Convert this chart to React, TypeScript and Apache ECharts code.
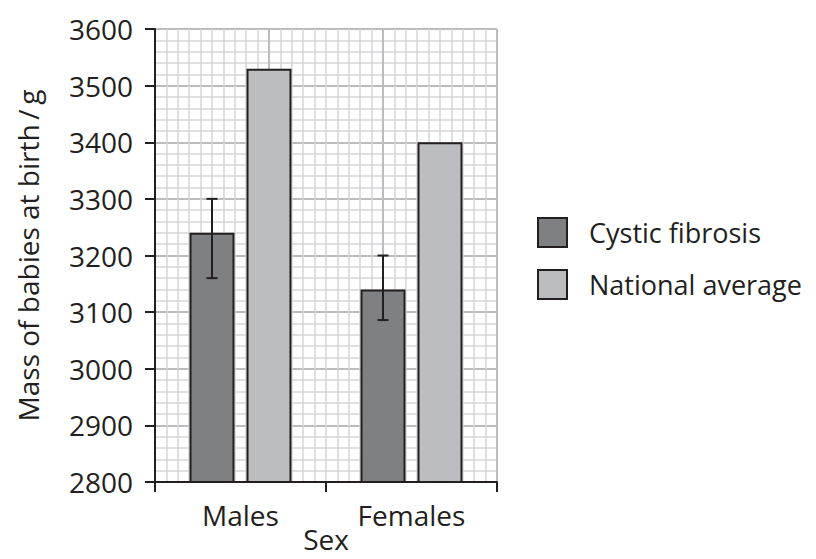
import React, { useEffect, useRef } from "react";
import * as echarts from "echarts";

const categories = ["Males", "Females"];
const cysticFibrosis = [3240, 3140];
const nationalAverage = [3530, 3400];
const errorLow = [3160, 3086];
const errorHigh = [3300, 3200];
const seriesNames = ["Cystic fibrosis", "National average"];

const INK = "#231f20";
const FONT = "'Open Sans', sans-serif";
const FS = 28;
const BAR_W = 0.263;
const BAR_GAP = 0.267;

export default function App() {
  const ref = useRef<HTMLDivElement>(null);
  useEffect(() => {
    if (!ref.current) return;
    const chart = echarts.init(ref.current, null, { renderer: "svg" });
    const option: any = {
      animation: false,
      backgroundColor: "#ffffff",
      textStyle: { fontFamily: FONT, color: INK },
      grid: {
        left: 155,
        right: 319,
        top: 29,
        bottom: 77,
        containLabel: false,
        outerBoundsMode: "none",
      },
      legend: {
        orient: "vertical",
        left: 537,
        top: 217,
        padding: 0,
        itemWidth: 29,
        itemHeight: 29,
        itemGap: 21,
        icon: "rect",
        data: seriesNames,
        textStyle: { fontFamily: FONT, fontSize: 27, color: INK, padding: [0, 0, 0, 17] },
      },
      xAxis: [
        {
          type: "category",
          data: categories,
          position: "bottom",
          axisLine: { lineStyle: { color: INK, width: 2 } },
          axisTick: { show: true, length: 10, lineStyle: { color: INK, width: 2 } },
          axisLabel: { fontFamily: FONT, fontSize: FS, color: INK, margin: 19 },
          splitLine: { show: false },
          name: "Sex",
          nameLocation: "middle",
          nameGap: 46,
          nameMoveOverlap: false,
          nameTextStyle: { fontFamily: FONT, fontSize: FS, color: INK, lineHeight: 22 },
          z: 5,
        },
        {
          type: "value",
          min: 0,
          max: 30,
          interval: 10,
          position: "top",
          axisLine: { show: false },
          axisTick: { show: false },
          axisLabel: { show: false },
          splitLine: { show: true, lineStyle: { color: "#bcbcbe", width: 2 } },
          minorTick: { show: false, splitNumber: 10 },
          minorSplitLine: { show: true, lineStyle: { color: "#d6d6d8", width: 1.5 } },
        },
      ],
      yAxis: {
        type: "value",
        min: 2800,
        max: 3600,
        interval: 100,
        axisLine: { show: true, lineStyle: { color: INK, width: 2 } },
        axisTick: { show: true, length: 10, lineStyle: { color: INK, width: 2 } },
        axisLabel: {
          fontFamily: FONT,
          fontSize: FS,
          color: INK,
          margin: 22,
          formatter: (v: number) => String(v),
        },
        splitLine: { show: true, lineStyle: { color: "#bcbcbe", width: 2 } },
        minorTick: { show: false, splitNumber: 5 },
        minorSplitLine: { show: true, lineStyle: { color: "#d6d6d8", width: 1.5 } },
        name: "Mass of babies at birth\u2009/\u2009g",
        nameLocation: "middle",
        nameGap: 113,
        nameMoveOverlap: false,
        nameTextStyle: { fontFamily: FONT, fontSize: FS, color: INK },
      },
      series: [
        {
          name: seriesNames[0],
          type: "bar",
          xAxisIndex: 0,
          data: cysticFibrosis,
          barWidth: BAR_W * 100 + "%",
          barGap: BAR_GAP * 100 + "%",
          itemStyle: { color: "#7f8084", borderColor: INK, borderWidth: 2 },
          z: 3,
        },
        {
          name: seriesNames[1],
          type: "bar",
          xAxisIndex: 0,
          data: nationalAverage,
          barWidth: BAR_W * 100 + "%",
          barGap: BAR_GAP * 100 + "%",
          itemStyle: { color: "#bcbdc0", borderColor: INK, borderWidth: 2 },
          z: 3,
        },
        {
          type: "custom",
          xAxisIndex: 0,
          z: 10,
          data: categories.map((_, i) => [i, errorLow[i], errorHigh[i]]),
          renderItem: (params: any, api: any) => {
            const idx = api.value(0);
            const band = api.size([1, 0])[0];
            const offset = -(band * BAR_W * (1 + BAR_GAP)) / 2;
            const lo = api.coord([idx, api.value(1)]);
            const hi = api.coord([idx, api.value(2)]);
            const x = lo[0] + offset;
            const cap = 5.5;
            const style = { stroke: INK, lineWidth: 2 };
            return {
              type: "group",
              children: [
                { type: "line", shape: { x1: x, y1: lo[1], x2: x, y2: hi[1] }, style },
                { type: "line", shape: { x1: x - cap, y1: hi[1], x2: x + cap, y2: hi[1] }, style },
                { type: "line", shape: { x1: x - cap, y1: lo[1], x2: x + cap, y2: lo[1] }, style },
              ],
            };
          },
        },
      ],
    };
    chart.setOption(option);
    return () => chart.dispose();
  }, []);
  return (
    <div
      ref={ref}
      style={{ position: "absolute", left: 0, top: 0, width: 816, height: 559 }}
    />
  );
}
